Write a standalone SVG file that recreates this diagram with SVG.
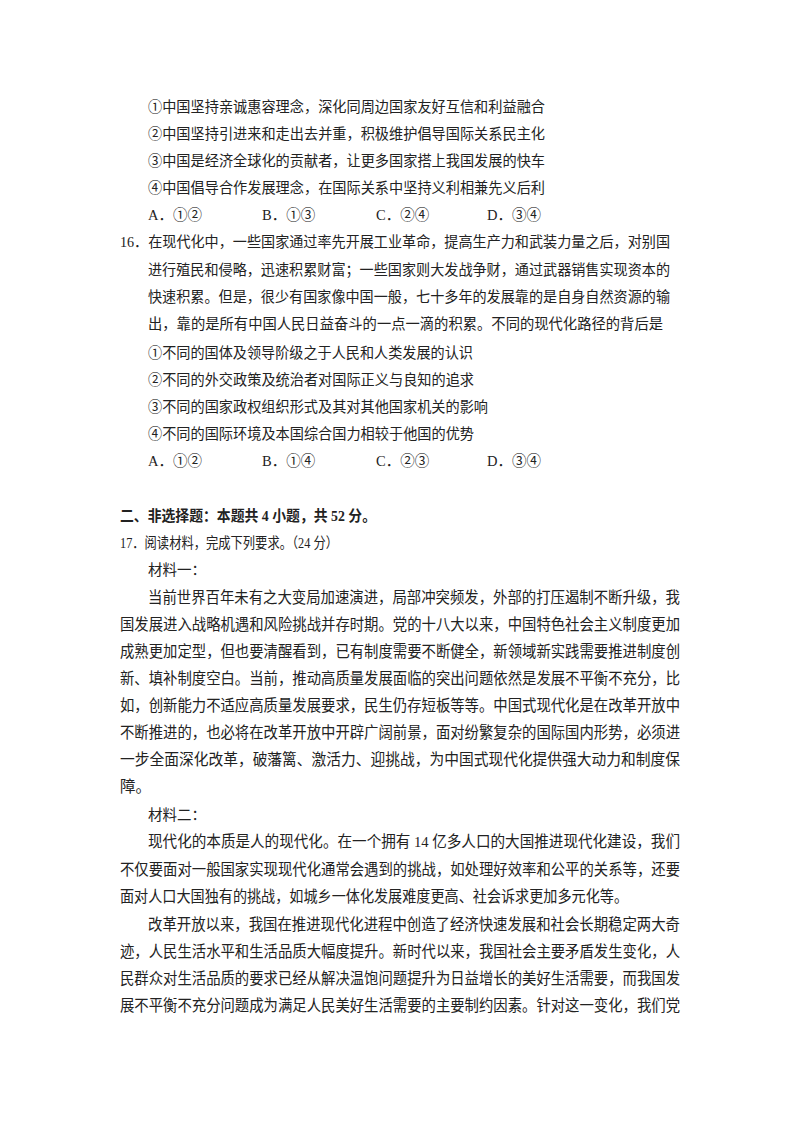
<svg xmlns="http://www.w3.org/2000/svg" width="800" height="1132" viewBox="0 0 800 1132">
<style>
text{font-family:"Liberation Serif","Noto Sans CJK SC",serif;fill:#222;}
.q{font-size:14.5px;}
.m{font-size:15.5px;}
.b{font-weight:bold;}
</style>
<rect width="800" height="1132" fill="#fff"/>
<g class="q">
<text x="148" y="112" textLength="397" lengthAdjust="spacingAndGlyphs">①中国坚持亲诚惠容理念，深化同周边国家友好互信和利益融合</text>
<text x="148" y="139" textLength="397" lengthAdjust="spacingAndGlyphs">②中国坚持引进来和走出去并重，积极维护倡导国际关系民主化</text>
<text x="148" y="166" textLength="397" lengthAdjust="spacingAndGlyphs">③中国是经济全球化的贡献者，让更多国家搭上我国发展的快车</text>
<text x="148" y="193" textLength="397" lengthAdjust="spacingAndGlyphs">④中国倡导合作发展理念，在国际关系中坚持义利相兼先义后利</text>
<text x="148" y="220">A．①②</text><text x="262" y="220">B．①③</text><text x="376" y="220">C．②④</text><text x="487" y="220">D．③④</text>
<text x="120" y="247" textLength="550" lengthAdjust="spacingAndGlyphs">16．在现代化中，一些国家通过率先开展工业革命，提高生产力和武装力量之后，对别国</text>
<text x="148" y="275" textLength="522" lengthAdjust="spacingAndGlyphs">进行殖民和侵略，迅速积累财富；一些国家则大发战争财，通过武器销售实现资本的</text>
<text x="148" y="302" textLength="522" lengthAdjust="spacingAndGlyphs">快速积累。但是，很少有国家像中国一般，七十多年的发展靠的是自身自然资源的输</text>
<text x="148" y="329" textLength="515" lengthAdjust="spacingAndGlyphs">出，靠的是所有中国人民日益奋斗的一点一滴的积累。不同的现代化路径的背后是</text>
<text x="148" y="358" textLength="325" lengthAdjust="spacingAndGlyphs">①不同的国体及领导阶级之于人民和人类发展的认识</text>
<text x="148" y="385" textLength="326" lengthAdjust="spacingAndGlyphs">②不同的外交政策及统治者对国际正义与良知的追求</text>
<text x="148" y="412" textLength="340" lengthAdjust="spacingAndGlyphs">③不同的国家政权组织形式及其对其他国家机关的影响</text>
<text x="148" y="439" textLength="326" lengthAdjust="spacingAndGlyphs">④不同的国际环境及本国综合国力相较于他国的优势</text>
<text x="148" y="466">A．①②</text><text x="262" y="466">B．①④</text><text x="376" y="466">C．②③</text><text x="487" y="466">D．③④</text>
<text x="120" y="521" class="b" textLength="256" lengthAdjust="spacingAndGlyphs">二、非选择题：本题共 4 小题，共 52 分。</text>
<text x="120" y="548" textLength="218" lengthAdjust="spacingAndGlyphs">17．阅读材料，完成下列要求。（24 分）</text>
<text x="148" y="575">材料一：</text>
</g>
<g class="m">
<text x="148" y="603" textLength="532" lengthAdjust="spacingAndGlyphs">当前世界百年未有之大变局加速演进，局部冲突频发，外部的打压遏制不断升级，我</text>
<text x="120" y="630" textLength="560" lengthAdjust="spacingAndGlyphs">国发展进入战略机遇和风险挑战并存时期。党的十八大以来，中国特色社会主义制度更加</text>
<text x="120" y="657" textLength="560" lengthAdjust="spacingAndGlyphs">成熟更加定型，但也要清醒看到，已有制度需要不断健全，新领域新实践需要推进制度创</text>
<text x="120" y="684" textLength="560" lengthAdjust="spacingAndGlyphs">新、填补制度空白。当前，推动高质量发展面临的突出问题依然是发展不平衡不充分，比</text>
<text x="120" y="711" textLength="560" lengthAdjust="spacingAndGlyphs">如，创新能力不适应高质量发展要求，民生仍存短板等等。中国式现代化是在改革开放中</text>
<text x="120" y="738" textLength="560" lengthAdjust="spacingAndGlyphs">不断推进的，也必将在改革开放中开辟广阔前景，面对纷繁复杂的国际国内形势，必须进</text>
<text x="120" y="765" textLength="560" lengthAdjust="spacingAndGlyphs">一步全面深化改革，破藩篱、激活力、迎挑战，为中国式现代化提供强大动力和制度保</text>
<text x="120" y="792">障。</text>
<text x="148" y="820" class="q">材料二：</text>
<text x="148" y="847" textLength="532" lengthAdjust="spacingAndGlyphs">现代化的本质是人的现代化。在一个拥有 14 亿多人口的大国推进现代化建设，我们</text>
<text x="120" y="875" textLength="560" lengthAdjust="spacingAndGlyphs">不仅要面对一般国家实现现代化通常会遇到的挑战，如处理好效率和公平的关系等，还要</text>
<text x="120" y="902" textLength="508" lengthAdjust="spacingAndGlyphs">面对人口大国独有的挑战，如城乡一体化发展难度更高、社会诉求更加多元化等。</text>
<text x="148" y="930" textLength="532" lengthAdjust="spacingAndGlyphs">改革开放以来，我国在推进现代化进程中创造了经济快速发展和社会长期稳定两大奇</text>
<text x="120" y="957" textLength="560" lengthAdjust="spacingAndGlyphs">迹，人民生活水平和生活品质大幅度提升。新时代以来，我国社会主要矛盾发生变化，人</text>
<text x="120" y="984" textLength="560" lengthAdjust="spacingAndGlyphs">民群众对生活品质的要求已经从解决温饱问题提升为日益增长的美好生活需要，而我国发</text>
<text x="120" y="1011" textLength="560" lengthAdjust="spacingAndGlyphs">展不平衡不充分问题成为满足人民美好生活需要的主要制约因素。针对这一变化，我们党</text>
</g>
</svg>
